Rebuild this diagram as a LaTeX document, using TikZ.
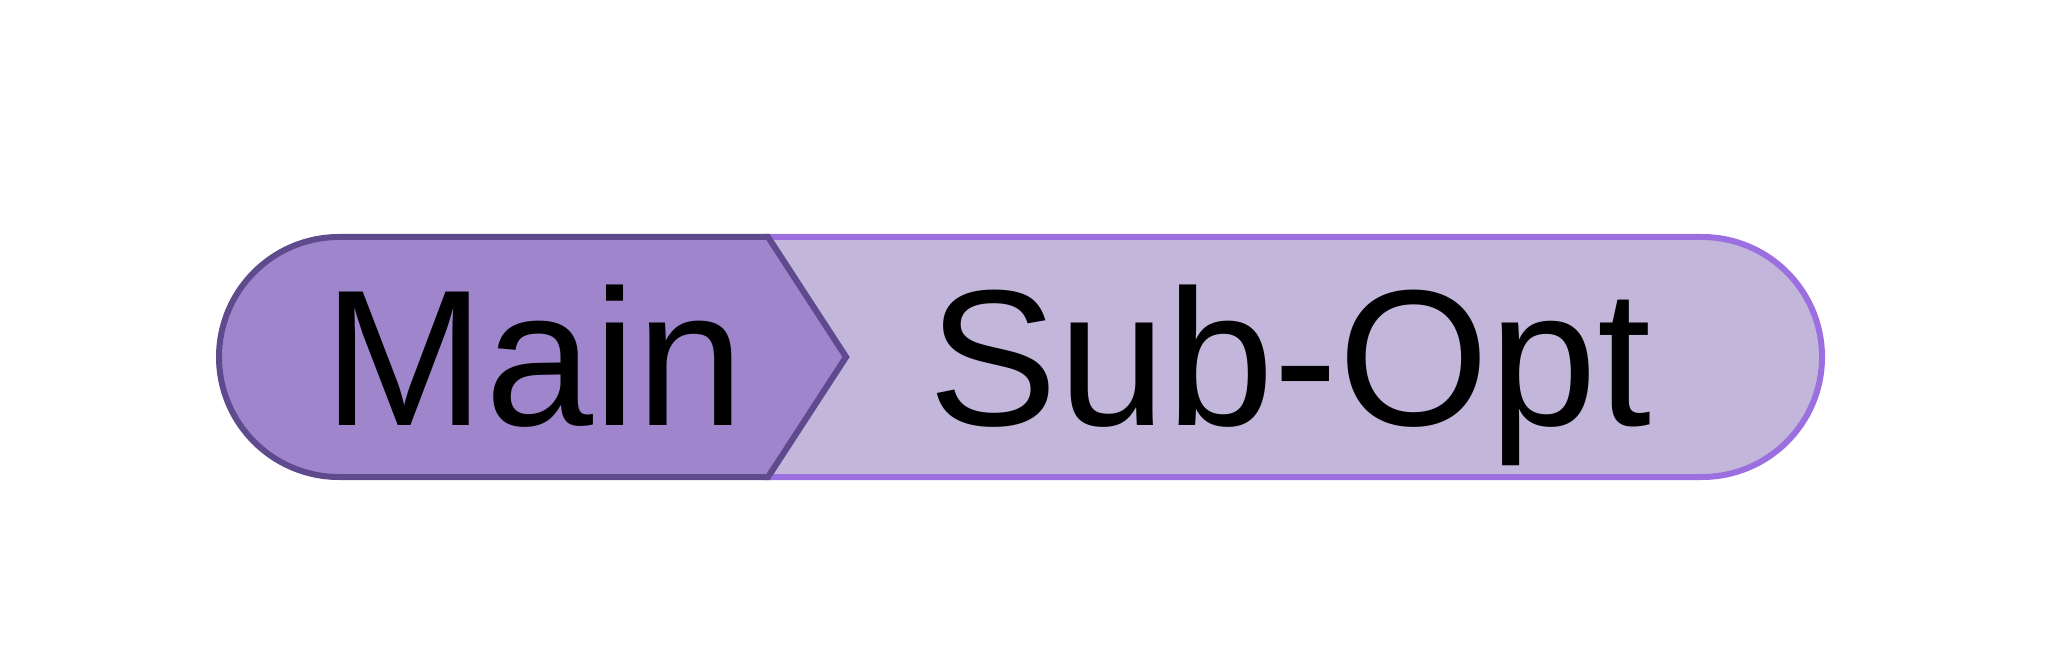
\documentclass[tikz,border=0pt]{standalone}
\usepackage{fontspec}
\setmainfont{Liberation Sans}
\definecolor{mainfill}{HTML}{9F86CC}
\definecolor{mainline}{HTML}{5E4A8C}
\definecolor{subfill}{HTML}{C2B6DA}
\definecolor{subline}{HTML}{9C6FE0}
\tikzset{lbl/.style={anchor=base,inner sep=0pt,font=\fontsize{97}{97}\selectfont}}
\begin{document}
\begin{tikzpicture}[x=0.5pt,y=-0.5pt]
\useasboundingbox (0,0) rectangle (2048,646);
\draw[fill=subfill,draw=subline,line width=3] (768,237) -- (1702,237) arc[start angle=-90,end angle=90,radius=120] -- (768,477) -- (846,357) -- cycle;
\draw[fill=mainfill,draw=mainline,line width=3] (339,237) -- (768,237) -- (846,357) -- (768,477) -- (339,477) arc[start angle=90,end angle=270,radius=120] -- cycle;
\node[lbl] (main) at (534,425) {Main};
\node[lbl] (sub) at (1290,425) {Sub-Opt};
\end{tikzpicture}
\end{document}
